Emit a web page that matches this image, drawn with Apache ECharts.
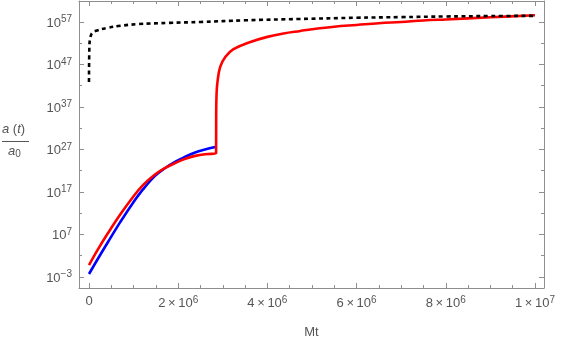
<!DOCTYPE html>
<html>
<head>
<meta charset="utf-8">
<script src="https://cdn.jsdelivr.net/npm/echarts@6/dist/echarts.min.js"></script>
<style>
  html, body { margin: 0; padding: 0; background: #fff; }
  #chart { width: 561px; height: 346px; }
</style>
</head>
<body>
<div id="chart"></div>
<script>
// values are log10(a/a0)
const blueData = [
  [0, -2.3], [2e5, 1.3], [4.3e5, 5.3], [7e5, 9.9], [9.7e5, 14.2], [1.21e6, 17.6],
  [1.48e6, 20.8], [1.7e6, 22.6], [1.93e6, 24.1], [2.16e6, 25.3], [2.38e6, 26.3],
  [2.6e6, 27.0], [2.83e6, 27.6]
]
const redData = [
  [0, -0.2], [2e5, 3.5], [4.3e5, 7.4], [7e5, 11.7], [9.7e5, 15.6], [1.21e6, 18.6],
  [1.48e6, 21.1], [1.7e6, 22.6], [1.93e6, 23.8], [2.16e6, 24.8], [2.38e6, 25.5],
  [2.6e6, 25.9], [2.85e6, 26.1], [2.852e6, 35], [2.86e6, 40], [2.88e6, 42.8],
  [2.94e6, 46.4], [3.06e6, 48.8], [3.24e6, 50.6], [3.62e6, 52.3], [4.0e6, 53.5],
  [4.36e6, 54.3], [4.74e6, 54.9], [5e6, 55.3], [5.5e6, 55.9], [6e6, 56.3],
  [6.5e6, 56.7], [7e6, 57.0], [7.5e6, 57.35], [8e6, 57.6], [9e6, 58.1], [1e7, 58.6]
]
const blackData = [
  [0, 42.9], [1e4, 51.5], [3e4, 53.3], [7e4, 54.4], [1.8e5, 55.0], [4e5, 55.6],
  [7e5, 56.1], [1.1e6, 56.5], [1.8e6, 56.8], [2.5e6, 57.0], [3.5e6, 57.4],
  [4.7e6, 57.7], [6e6, 58.0], [7e6, 58.15], [8e6, 58.3], [9e6, 58.4], [1e7, 58.45]
]

const xMajor = [0, 2e6, 4e6, 6e6, 8e6, 1e7]
const xMinor = [5e5, 1e6, 1.5e6, 2.5e6, 3e6, 3.5e6, 4.5e6, 5e6, 5.5e6, 6.5e6, 7e6, 7.5e6, 8.5e6, 9e6, 9.5e6]
const yMajor = [-3, 7, 17, 27, 37, 47, 57]
const yMinor = [2, 12, 22, 32, 42, 52]

const xMin = -2.24e5
const xMax = 1.0202e7
const yMin = -5.59
const yMax = 61.94

const frameColor = '#8e8e8e'
const textColor = '#555'
const font = 'Liberation Sans'

const chart = echarts.init(document.getElementById('chart'))

function expLabel(v) {
  const e = String(v).replace('-', '\u2212')
  return '{b|10}{e|' + e + '}'
}
function xLabel(v) {
  if (v === 0) return '{b|0}'
  const p = Math.floor(Math.log10(v))
  const m = Math.round(v / Math.pow(10, p))
  return '{b|' + m + '\u2009\u00d7\u200910}{e|' + p + '}'
}
const rich = {
  b: { fontSize: 13, color: textColor, fontFamily: font, verticalAlign: 'bottom' },
  e: { fontSize: 10, color: textColor, fontFamily: font, verticalAlign: 'bottom', padding: [0, 0, 5, 0] }
}

function xAx(pos, ticks, len, withLabel, withLine) {
  return {
    type: 'value', position: pos, min: xMin, max: xMax,
    axisLine: { show: withLine, onZero: false, lineStyle: { color: frameColor, width: 1 } },
    axisTick: { show: true, inside: true, length: len, customValues: ticks, lineStyle: { color: frameColor } },
    axisLabel: withLabel
      ? { show: true, customValues: ticks, formatter: xLabel, rich: rich, margin: 7 }
      : { show: false },
    splitLine: { show: false }
  }
}
function yAx(pos, ticks, len, withLabel, withLine) {
  return {
    type: 'value', position: pos, min: yMin, max: yMax,
    axisLine: { show: withLine, onZero: false, lineStyle: { color: frameColor, width: 1 } },
    axisTick: { show: true, inside: true, length: len, customValues: ticks, lineStyle: { color: frameColor } },
    axisLabel: withLabel
      ? { show: true, customValues: ticks, formatter: expLabel, rich: rich, margin: 7 }
      : { show: false },
    splitLine: { show: false }
  }
}

const xMain = xAx('bottom', xMajor, 5, true, true)
xMain.name = 'Mt'
xMain.nameLocation = 'middle'
xMain.nameGap = 38
xMain.nameTextStyle = { color: textColor, fontSize: 13, fontFamily: font }

const option = {
  animation: false,
  grid: { left: 79, top: 1, width: 465, height: 287 },
  xAxis: [
    xMain,
    xAx('bottom', xMinor, 3, false, false),
    xAx('top', xMajor, 5, false, true),
    xAx('top', xMinor, 3, false, false)
  ],
  yAxis: [
    yAx('left', yMajor, 5, true, true),
    yAx('left', yMinor, 3, false, false),
    yAx('right', yMajor, 5, false, true),
    yAx('right', yMinor, 3, false, false)
  ],
  graphic: [
    {
      type: 'text', left: 2, top: 123,
      style: {
        text: '{i|a} ({i|t})',
        rich: {
          i: { fontStyle: 'italic', fontSize: 13, fontFamily: font, fill: textColor }
        },
        fontSize: 13, fontFamily: font, fill: textColor
      }
    },
    {
      type: 'line',
      shape: { x1: 2, y1: 141.5, x2: 29, y2: 141.5 },
      style: { stroke: textColor, lineWidth: 1 }
    },
    {
      type: 'text', left: 8, top: 145,
      style: {
        text: '{i|a}{s|0}',
        rich: {
          i: { fontStyle: 'italic', fontSize: 13, fontFamily: font, fill: textColor, verticalAlign: 'top' },
          s: { fontSize: 10, fontFamily: font, fill: textColor, verticalAlign: 'top', padding: [4, 0, 0, 0] }
        }
      }
    }
  ],
  series: [
    {
      type: 'line', data: blueData, showSymbol: false, smooth: 0.4,
      lineStyle: { color: '#0000ff', width: 2.6 }, z: 2
    },
    {
      type: 'line', data: redData, showSymbol: false, smooth: 0.4,
      lineStyle: { color: '#ff0000', width: 2.6 }, z: 3
    },
    {
      type: 'line', data: blackData, showSymbol: false, smooth: 0.4,
      lineStyle: { color: '#000', width: 2.6, type: [4, 3.5], cap: 'butt' }, z: 4
    }
  ]
}

chart.setOption(option)
</script>
</body>
</html>
